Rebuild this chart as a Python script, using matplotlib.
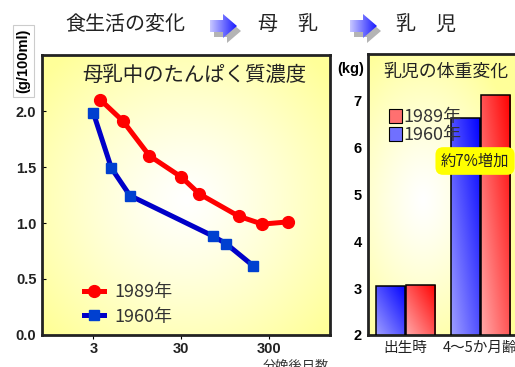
import matplotlib
matplotlib.use('Agg')
import matplotlib.pyplot as plt
import numpy as np
from matplotlib.patches import Polygon, Patch

jp = ['Noto Sans CJK JP', 'DejaVu Sans']
num = 'Liberation Sans'

# protein concentration in breast milk (g/100ml) vs days after delivery
days_1989 = [3.6, 6.5, 13, 30, 48, 135, 250, 490]
prot_1989 = [2.10, 1.91, 1.60, 1.41, 1.26, 1.06, 0.99, 1.01]
days_1960 = [3.0, 4.8, 7.8, 68, 97, 195]
prot_1960 = [1.98, 1.49, 1.245, 0.885, 0.815, 0.62]
day_ticks = [3, 30, 300]

# infant body weight (kg)
groups = ['出生時', '4～5か月齢']
w_1960 = [3.05, 6.64]
w_1989 = [3.07, 7.13]

W, H = 515, 367
fig = plt.figure(figsize=(W / 100, H / 100), dpi=100)

# underlay axes in pixel coords for decorations
ax0 = fig.add_axes([0, 0, 1, 1])
ax0.set_xlim(0, W)
ax0.set_ylim(H, 0)
ax0.axis('off')


def radial_bg(x0, x1, y0, y1, cx, cy, rx, ry):
    ys, xs = np.mgrid[y0:y1:200j, x0:x1:200j]
    d = np.sqrt(((xs - cx) / rx) ** 2 + ((ys - cy) / ry) ** 2)
    t = np.clip(d, 0, 1)[..., None] ** 1.2
    edge = np.array([1.0, 1.0, 0.6])
    img = 1 + (edge - 1) * t
    ax0.imshow(img, extent=(x0, x1, y1, y0), origin='upper', aspect='auto', zorder=0)


def arrow(x0, yc):
    pts = [(x0, yc - 6), (x0 + 13, yc - 6), (x0 + 13, yc - 12), (x0 + 27, yc),
           (x0 + 13, yc + 12), (x0 + 13, yc + 6), (x0, yc + 6)]
    sh = Polygon([(x + 4, y + 5) for x, y in pts], closed=True, fc='#b4b4b4', ec='none', zorder=1)
    ax0.add_patch(sh)
    p = Polygon(pts, closed=True, fc='none', ec='none', zorder=2)
    ax0.add_patch(p)
    g = np.linspace(0, 1, 100)[None, :, None]
    light = np.array([0.78, 0.78, 1.0])
    dark = np.array([0.1, 0.1, 1.0])
    img = np.repeat(light + (dark - light) * g, 10, axis=0)
    im = ax0.imshow(img, extent=(x0, x0 + 27, yc + 12, yc - 12), aspect='auto', zorder=2)
    im.set_clip_path(p)


radial_bg(42, 330, 55, 335, 187, 200, 190, 190)
radial_bg(368, 530, 54, 335, 423, 200, 100, 170)
arrow(210, 26)
arrow(350, 26)
ax0.set_xlim(0, W)
ax0.set_ylim(H, 0)

ax0.text(65, 25, '食生活の変化', family=jp, fontsize=14.4, color='#222222', va='center')
ax0.text(258, 25, '母　乳', family=jp, fontsize=14.4, color='#222222', va='center')
ax0.text(396, 25, '乳　児', family=jp, fontsize=14.4, color='#222222', va='center')
ax0.text(23.5, 61, '(g/100ml)', family=num, fontweight='bold', fontsize=10.5, rotation=90,
         ha='center', va='center',
         bbox=dict(boxstyle='square,pad=0.25', fc='white', ec='#cccccc', lw=0.8))
ax0.text(337, 69, '(kg)', family=num, fontweight='bold', fontsize=10.5, va='center')
ax0.text(263, 360, '分娩後日数', family=jp, fontsize=9.5, color='#333333', va='top')

# left panel
ax1 = fig.add_axes([42 / W, 1 - 335 / H, 288 / W, 280 / H])
ax1.set_facecolor('none')
ax1.set_xscale('log')
ax1.plot(days_1989, prot_1989, color='#ff0000', lw=3.6, marker='o', ms=8.5,
         mec='#ff0000', label='1989年')
ax1.plot(days_1960, prot_1960, color='#0000c8', lw=3.6, marker='s', ms=7.5,
         mfc='#0040d0', mec='#0040d0', label='1960年')
ax1.set_xlim(0.78, 1470)
ax1.set_ylim(0, 2.5)
ax1.set_xticks(day_ticks)
ax1.set_xticklabels([str(d) for d in day_ticks])
ax1.xaxis.set_minor_locator(matplotlib.ticker.NullLocator())
ax1.set_yticks([0, 0.5, 1.0, 1.5, 2.0])
ax1.set_yticklabels(['0.0', '0.5', '1.0', '1.5', '2.0'])
ax1.tick_params(axis='y', direction='in', length=3, pad=4, width=0.8)
ax1.tick_params(axis='x', direction='out', length=3, pad=2, width=0.8)
for lab in ax1.get_xticklabels() + ax1.get_yticklabels():
    lab.set_fontfamily(num)
    lab.set_fontweight('bold')
    lab.set_fontsize(10.5)
    lab.set_color('#222222')
for s in ax1.spines.values():
    s.set_linewidth(2)
    s.set_color('#222222')
ax1.text(82, 75, '母乳中のたんぱく質濃度', family=jp, fontsize=14.7, color='#222222',
         va='center', transform=ax0.transData)
leg = ax1.legend(loc='lower left', bbox_to_anchor=(0.09, -0.025), frameon=False,
                 prop={'family': jp, 'size': 13}, handlelength=1.1, handletextpad=0.6,
                 labelspacing=0.35)
for t in leg.get_texts():
    t.set_color('#333333')

# right panel
ax2 = fig.add_axes([368 / W, 1 - 335 / H, 162 / W, 281 / H])
ax2.set_facecolor('none')
x = np.arange(len(groups))
bw = 0.387
off = 0.197
b60 = ax2.bar(x - off, w_1960, bw, fc='none', ec='black', lw=1.1, zorder=3)
b89 = ax2.bar(x + off, w_1989, bw, fc='none', ec='black', lw=1.1, zorder=3)
ax2.set_xlim(-0.5, 1.66)
ax2.set_ylim(2, 8)


def grad_bar(rect, light, dark):
    x0 = rect.get_x()
    x1 = x0 + rect.get_width()
    y1 = rect.get_height()
    u = np.linspace(0, 1, 60)[None, :]
    v = np.linspace(1, 0, 120)[:, None]
    t = (0.5 * u + 0.5 * v)[..., None]
    img = np.array(light) + (np.array(dark) - np.array(light)) * t
    im = ax2.imshow(img, extent=(x0, x1, 2, y1), aspect='auto', zorder=2)
    im.set_clip_path(rect)


for r in b60:
    grad_bar(r, (0.62, 0.62, 1.0), (0.0, 0.0, 1.0))
for r in b89:
    grad_bar(r, (1.0, 0.66, 0.66), (1.0, 0.0, 0.0))
ax2.set_xlim(-0.5, 1.66)
ax2.set_ylim(2, 8)
ax2.set_xticks(x)
ax2.set_xticklabels(groups, family=jp, fontsize=10.5, color='#222222')
ax2.set_yticks(range(2, 8))
ax2.tick_params(axis='x', length=0, pad=4)
ax2.tick_params(axis='y', length=0, pad=4.5)
for lab in ax2.get_yticklabels():
    lab.set_fontfamily(num)
    lab.set_fontweight('bold')
    lab.set_fontsize(10.5)
for s in ax2.spines.values():
    s.set_linewidth(2)
    s.set_color('#222222')
ax2.text(383, 72, '乳児の体重変化', family=jp, fontsize=12.9, color='#222222',
         va='center', transform=ax0.transData)
h = [Patch(fc='#ff7070', ec='black', lw=0.8, label='1989年'),
     Patch(fc='#7070ff', ec='black', lw=0.8, label='1960年')]
leg2 = ax2.legend(handles=h, loc='upper left', bbox_to_anchor=(0.05, 0.852), frameon=False,
                  prop={'family': jp, 'size': 13}, handlelength=0.72, handleheight=0.8,
                  handletextpad=0.1, labelspacing=0.0, borderpad=0.2)
for t in leg2.get_texts():
    t.set_color('#333333')
ax2.text(475, 161, '約7%増加', family=jp, fontsize=11, color='#222222', ha='center',
         va='center', transform=ax0.transData, zorder=5,
         bbox=dict(boxstyle='round,pad=0.35,rounding_size=0.5', fc='#ffff00', ec='none'))

fig.savefig('out.png', dpi=100)
